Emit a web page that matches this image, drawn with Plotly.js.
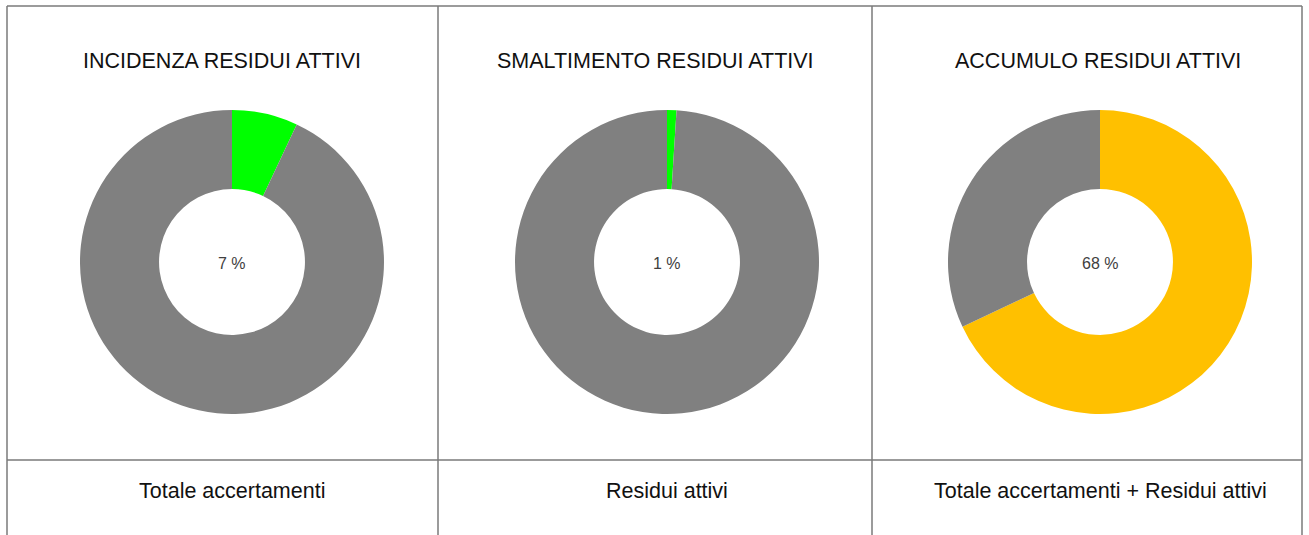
<!DOCTYPE html>
<html>
<head>
<meta charset="utf-8">
<script src="https://cdn.plot.ly/plotly-3.0.1.min.js"></script>
<style>html,body{margin:0;padding:0;background:#fff;}#chart{width:1309px;height:535px;}</style>
</head>
<body>
<div id="chart"></div>
<script>
const titles = ["INCIDENZA RESIDUI ATTIVI", "SMALTIMENTO RESIDUI ATTIVI", "ACCUMULO RESIDUI ATTIVI"];
const footers = ["Totale accertamenti", "Residui attivi", "Totale accertamenti + Residui attivi"];
const percentValues = [7, 1, 68];
const remainderValues = [93, 99, 32];
const sliceColors = [["#00FF00", "#808080"], ["#00FF00", "#808080"], ["#FFC000", "#808080"]];

const W = 1309, H = 535;
const centersX = [232, 667, 1100];
const titleCentersX = [222, 655, 1098];
const centerY = 262;
const R = 152;

const traces = [];
const annotations = [];
for (let i = 0; i < 3; i++) {
  const cx = centersX[i];
  const cyB = H - centerY;
  traces.push({
    type: 'pie',
    values: [percentValues[i], remainderValues[i]],
    labels: ['a', 'b'],
    marker: {colors: sliceColors[i], line: {width: 0}},
    hole: 0.48,
    sort: false,
    direction: 'clockwise',
    rotation: 0,
    textinfo: 'none',
    hoverinfo: 'skip',
    showlegend: false,
    domain: {x: [(cx - R) / W, (cx + R) / W], y: [(cyB - R) / H, (cyB + R) / H]}
  });
  annotations.push({
    text: titles[i], x: titleCentersX[i] / W, y: 1 - 61 / H, xref: 'paper', yref: 'paper',
    showarrow: false, xanchor: 'center', yanchor: 'middle',
    font: {family: 'Liberation Sans, Arial', size: 21.5, color: '#111111'}
  });
  annotations.push({
    text: percentValues[i] + ' %', x: cx / W, y: 1 - 263 / H, xref: 'paper', yref: 'paper',
    showarrow: false, xanchor: 'center', yanchor: 'middle',
    font: {family: 'Liberation Sans, Arial', size: 16, color: '#404040'}
  });
  annotations.push({
    text: footers[i], x: cx / W, y: 1 - 491 / H, xref: 'paper', yref: 'paper',
    showarrow: false, xanchor: 'center', yanchor: 'middle',
    font: {family: 'Liberation Sans, Arial', size: 21.5, color: '#111111'}
  });
}

const lc = '#7a7a7a', lw = 1.5;
function px(x){return x / W;}
function py(y){return 1 - y / H;}
const shapes = [
  {type:'line', xref:'paper', yref:'paper', x0:px(7), x1:px(1302), y0:py(6), y1:py(6), line:{color:lc, width:lw}},
  {type:'line', xref:'paper', yref:'paper', x0:px(7), x1:px(1302), y0:py(460), y1:py(460), line:{color:lc, width:lw}},
  {type:'line', xref:'paper', yref:'paper', x0:px(7), x1:px(7), y0:py(6), y1:py(535), line:{color:lc, width:lw}},
  {type:'line', xref:'paper', yref:'paper', x0:px(438), x1:px(438), y0:py(6), y1:py(535), line:{color:lc, width:lw}},
  {type:'line', xref:'paper', yref:'paper', x0:px(872), x1:px(872), y0:py(6), y1:py(535), line:{color:lc, width:lw}},
  {type:'line', xref:'paper', yref:'paper', x0:px(1302), x1:px(1302), y0:py(6), y1:py(535), line:{color:lc, width:lw}}
];

Plotly.newPlot('chart', traces, {
  width: W, height: H,
  margin: {l:0, r:0, t:0, b:0},
  paper_bgcolor: '#fff', plot_bgcolor: '#fff',
  annotations: annotations,
  shapes: shapes,
  showlegend: false
}, {staticPlot: true});
</script>
</body>
</html>
